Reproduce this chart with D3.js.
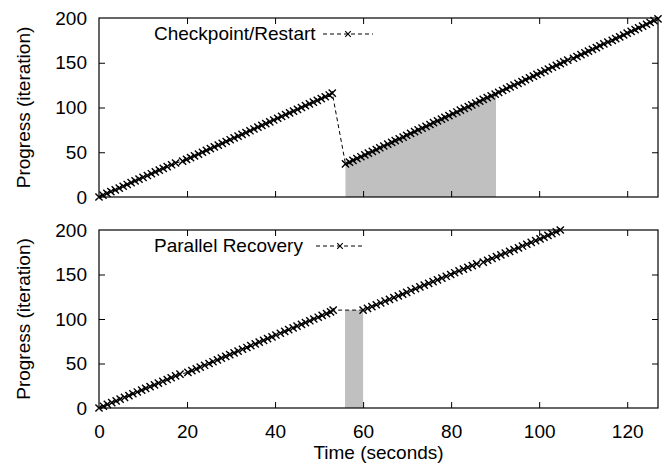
<!DOCTYPE html>
<html>
<head>
<meta charset="utf-8">
<script src="https://cdn.jsdelivr.net/npm/d3@7"></script>
<style>
  body { margin: 0; background: #fff; }
  svg text { font-family: "Liberation Sans", Arial, Helvetica, sans-serif; fill: #000; }
</style>
</head>
<body>
<div id="chart"></div>
<script>
//Data: [time (s), iteration]
const restartBefore = [
  [0.0,0],[0.9,2],[1.8,4],[2.7,6],[3.7,8],[4.6,10],[5.5,12],[6.4,14],[7.3,16],[8.2,18],
  [9.1,20],[10.0,22],[11.0,24],[11.9,26],[12.8,28],[13.7,30],[14.6,32],[15.5,34],[16.5,36],[17.4,38],
  [19.0,40],[19.9,42],[20.8,44],[21.7,46],[22.6,48],[23.5,50],[24.4,52],[25.3,54],[26.2,56],[27.1,58],
  [28.0,60],[28.9,62],[29.8,64],[30.7,66],[31.6,68],[32.5,70],[33.4,72],[34.3,74],[35.2,76],[36.1,78],
  [37.0,80],[37.9,82],[38.8,84],[39.7,86],[40.6,88],[41.5,90],[42.4,92],[43.3,94],[44.2,96],[45.1,98],
  [46.0,100],[46.9,102],[47.8,104],[48.7,106],[49.6,108],[50.5,110],[51.4,112],[52.3,114],[53.0,116]
];
const restartAfter = [
  [56.0,37],[56.9,39],[57.7,41],[58.6,43],[59.5,45],[60.4,47],[61.2,49],[62.1,51],[63.0,53],[63.8,55],
  [64.7,57],[65.6,59],[66.5,61],[67.3,63],[68.2,65],[69.1,67],[69.9,69],[70.8,71],[71.7,73],[72.5,75],
  [73.4,77],[74.3,79],[75.2,81],[76.0,83],[76.9,85],[77.8,87],[78.6,89],[79.5,91],[80.4,93],[81.3,95],
  [82.1,97],[83.0,99],[83.9,101],[84.7,103],[85.6,105],[86.5,107],[87.3,109],[88.2,111],[89.1,113],[90.0,115],
  [90.8,117],[91.7,119],[92.6,121],[93.4,123],[94.3,125],[95.2,127],[96.1,129],[96.9,131],[97.8,133],[98.7,135],
  [99.5,137],[100.4,139],[101.3,141],[102.1,143],[103.0,145],[103.9,147],[104.8,149],[105.6,151],[106.5,153],[107.8,155],
  [108.6,157],[109.5,159],[110.4,161],[111.2,163],[112.1,165],[113.0,167],[113.8,169],[114.7,171],[115.6,173],[116.6,175],
  [117.4,177],[118.3,179],[119.2,181],[120.0,183],[120.9,185],[121.8,187],[122.6,189],[123.5,191],[124.4,193],[125.2,195],
  [126.1,197],[127.0,199]
];
const parallelBefore = [
  [0.0,0],[1.0,2],[1.9,4],[2.9,6],[3.9,8],[4.8,10],[5.8,12],[6.8,14],[7.7,16],[8.7,18],
  [9.7,20],[10.6,22],[11.6,24],[12.6,26],[13.5,28],[14.5,30],[15.5,32],[16.4,34],[17.4,36],[18.4,38],
  [20.2,40],[21.1,42],[22.1,44],[23.0,46],[24.0,48],[25.0,50],[25.9,52],[26.9,54],[27.8,56],[28.8,58],
  [29.7,60],[30.7,62],[31.6,64],[32.6,66],[33.6,68],[34.5,70],[35.5,72],[36.4,74],[37.4,76],[38.3,78],
  [39.3,80],[40.2,82],[41.2,84],[42.2,86],[43.1,88],[44.1,90],[45.0,92],[46.0,94],[46.9,96],[47.9,98],
  [48.8,100],[49.8,102],[50.7,104],[51.7,106],[52.6,108],[53.2,110]
];
const parallelAfter = [
  [60.0,110],[61.0,112],[62.0,114],[63.0,116],[64.0,118],[65.0,120],[66.0,122],[67.0,124],[68.0,126],[69.0,128],
  [69.9,130],[70.9,132],[71.9,134],[72.9,136],[73.9,138],[74.9,140],[75.9,142],[76.9,144],[77.9,146],[78.9,148],
  [79.9,150],[80.8,152],[81.8,154],[82.8,156],[83.8,158],[84.8,160],[85.8,162],[87.3,164],[88.3,166],[89.3,168],
  [90.3,170],[91.3,172],[92.3,174],[93.3,176],[94.3,178],[95.3,180],[96.2,182],[97.2,184],[98.2,186],[99.2,188],
  [100.2,190],[101.1,192],[102.0,194],[102.9,196],[103.9,198],[104.8,200]
];
// shaded recovery windows [t start, t end]
const restartShade = [56.0, 90.2];
const parallelShade = [55.9, 60.0];
const parallelShadeTop = 110;

const xTicks = [0, 20, 40, 60, 80, 100, 120];
const yTicks = [0, 50, 100, 150, 200];
const xDomain = [0, 127];
const yDomain = [0, 200];
const legendLabels = ['Checkpoint/Restart', 'Parallel Recovery'];

//Layout
const W = 669, H = 466;
const left = 99, right = 658;
const FS = 19;
const panels = [
  { top: 18, bottom: 197, data: restartBefore.concat(restartAfter), label: legendLabels[0],
    legX: 154, legY: 40, sample: [323, 373], sampleY: 34, showX: false },
  { top: 230, bottom: 408, data: parallelBefore.concat(parallelAfter), label: legendLabels[1],
    legX: 154, legY: 252, sample: [316, 364], sampleY: 246, showX: true }
];

const svg = d3.select('#chart').append('svg').attr('width', W).attr('height', H);
const x = d3.scaleLinear().domain(xDomain).range([left, right]);

const crossPath = (cx, cy, r) => `M${cx - r},${cy - r}L${cx + r},${cy + r}M${cx - r},${cy + r}L${cx + r},${cy - r}`;

panels.forEach((p, pi) => {
  const y = d3.scaleLinear().domain(yDomain).range([p.bottom, p.top]);
  const g = svg.append('g');

  // shaded region
  if (pi === 0) {
    const pts = restartAfter.filter(d => d[0] <= restartShade[1]);
    const last = pts[pts.length - 1];
    const shadePts = [[restartShade[0], pts[0][1]]].concat(pts, [[restartShade[1], last[1]]]);
    g.append('path')
      .attr('d', d3.area().x(d => x(d[0])).y0(y(0)).y1(d => y(d[1]))(shadePts))
      .attr('fill', '#c0c0c0');
  } else {
    g.append('rect')
      .attr('x', x(parallelShade[0])).attr('width', x(parallelShade[1]) - x(parallelShade[0]))
      .attr('y', y(parallelShadeTop)).attr('height', y(0) - y(parallelShadeTop))
      .attr('fill', '#c0c0c0');
  }

  // axes with inward ticks on all four sides
  const inner = 6;
  const xb = g.append('g').attr('transform', `translate(0,${p.bottom})`)
    .call(d3.axisBottom(x).tickValues(xTicks).tickSizeInner(-inner).tickSizeOuter(0).tickPadding(17)
      .tickFormat(p.showX ? d3.format('d') : ''));
  const xt = g.append('g').attr('transform', `translate(0,${p.top})`)
    .call(d3.axisTop(x).tickValues(xTicks).tickSizeInner(-inner).tickSizeOuter(0).tickFormat(''));
  const yl = g.append('g').attr('transform', `translate(${left},0)`)
    .call(d3.axisLeft(y).tickValues(yTicks).tickSizeInner(-inner).tickSizeOuter(0).tickPadding(12));
  const yr = g.append('g').attr('transform', `translate(${right},0)`)
    .call(d3.axisRight(y).tickValues(yTicks).tickSizeInner(-inner).tickSizeOuter(0).tickFormat(''));
  [xb, xt, yl, yr].forEach(a => {
    a.select('.domain').remove();
    a.selectAll('line').attr('stroke', '#000');
    a.selectAll('text').attr('font-size', FS).attr('font-family', '"Liberation Sans", Arial, sans-serif').attr('fill', '#000');
  });
  // remove ticks at the frame edges
  xb.selectAll('.tick').filter(d => d === 0).select('line').remove();
  xt.selectAll('.tick').filter(d => d === 0).select('line').remove();
  yl.selectAll('.tick').filter(d => d === 0 || d === 200).select('line').remove();
  yr.selectAll('.tick').filter(d => d === 0 || d === 200).select('line').remove();

  // series line (dashed) and markers
  g.append('path')
    .attr('d', d3.line().x(d => x(d[0])).y(d => y(d[1]))(p.data))
    .attr('fill', 'none').attr('stroke', '#000').attr('stroke-width', 1)
    .attr('stroke-dasharray', '4,3');
  g.append('path')
    .attr('d', p.data.map(d => crossPath(x(d[0]), y(d[1]), 3.6)).join(''))
    .attr('fill', 'none').attr('stroke', '#000').attr('stroke-width', 1.4);

  // frame
  g.append('rect')
    .attr('x', left).attr('y', p.top).attr('width', right - left).attr('height', p.bottom - p.top)
    .attr('fill', 'none').attr('stroke', '#000').attr('stroke-width', 1.2);

  // legend
  g.append('text').attr('x', p.legX).attr('y', p.legY).attr('font-size', FS).text(p.label);
  g.append('line')
    .attr('x1', p.sample[0]).attr('x2', p.sample[1]).attr('y1', p.sampleY).attr('y2', p.sampleY)
    .attr('stroke', '#000').attr('stroke-width', 1).attr('stroke-dasharray', '4,3');
  g.append('path')
    .attr('d', crossPath((p.sample[0] + p.sample[1]) / 2, p.sampleY, 2.8))
    .attr('stroke', '#000').attr('stroke-width', 1.1);

  // y label
  g.append('text')
    .attr('transform', `translate(30,${(p.top + p.bottom) / 2}) rotate(-90)`)
    .attr('text-anchor', 'middle').attr('font-size', FS)
    .text('Progress (iteration)');
});

svg.append('text')
  .attr('x', (left + right) / 2).attr('y', 459)
  .attr('text-anchor', 'middle').attr('font-size', FS)
  .text('Time (seconds)');
</script>
</body>
</html>
